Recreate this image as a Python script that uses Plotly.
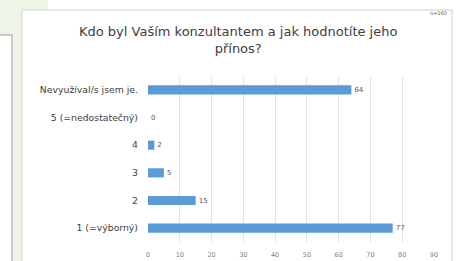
import plotly.graph_objects as go

categories = ["Nevyužíval/s jsem je.", "5 (=nedostatečný)", "4", "3", "2", "1 (=výborný)"]
values = [64, 0, 2, 5, 15, 77]
x_ticks = [0, 10, 20, 30, 40, 50, 60, 70, 80, 90]
title_lines = ["Kdo byl Vaším konzultantem a jak hodnotíte jeho", "přínos?"]
note = "n=160"

W, H = 457, 261
ML, MR, MT, MB = 148, 23, 76, 19
PW, PH = W - ML - MR, H - MT - MB

def px(x):
    return (x - ML) / PW

def py(y):
    return (H - MB - y) / PH

FONT = "DejaVu Sans"

fig = go.Figure(go.Bar(
    x=values, y=categories, orientation="h",
    marker=dict(color="#5b9bd5", line=dict(width=0)),
    width=0.33,
    text=[str(v) for v in values], textposition="outside",
    textfont=dict(size=7, color="#595959", family=FONT),
    cliponaxis=False,
))

shapes = [
    # light green page area
    dict(type="rect", xref="paper", yref="paper", x0=px(-2), x1=px(48), y0=py(36), y1=py(-2),
         fillcolor="#eef5e6", line=dict(width=0), layer="below"),
    dict(type="rect", xref="paper", yref="paper", x0=px(12), x1=px(22), y0=py(263), y1=py(30),
         fillcolor="#eef5e6", line=dict(width=0), layer="below"),
    # left panel
    dict(type="rect", xref="paper", yref="paper", x0=px(-3), x1=px(12), y0=py(265), y1=py(35),
         fillcolor="white", line=dict(color="#c8c8c8", width=2), layer="below"),
    # chart panel
    dict(type="rect", xref="paper", yref="paper", x0=px(22), x1=px(452), y0=py(265), y1=py(10),
         fillcolor="white", line=dict(color="#e0e0e0", width=1.5), layer="below"),
]

annotations = [
    dict(text="<br>".join(title_lines), xref="paper", yref="paper", x=px(238), y=py(40),
         showarrow=False, font=dict(size=13, color="#404040", family=FONT),
         xanchor="center", yanchor="middle", align="center"),
    dict(text=note, xref="paper", yref="paper", x=px(438), y=py(13),
         showarrow=False, font=dict(size=5, color="#595959", family=FONT),
         xanchor="center", yanchor="middle"),
]

fig.update_layout(
    width=W, height=H,
    margin=dict(l=ML, r=MR, t=MT, b=MB, pad=0, autoexpand=False),
    paper_bgcolor="white", plot_bgcolor="rgba(0,0,0,0)",
    showlegend=False,
    shapes=shapes, annotations=annotations,
    xaxis=dict(range=[0, 90], tickvals=x_ticks, showgrid=True, gridcolor="#e3e3e3",
               gridwidth=1, zeroline=False, showline=False, automargin=False,
               ticks="outside", ticklen=6, tickcolor="rgba(0,0,0,0)",
               tickfont=dict(size=6.5, color="#7f7f7f", family=FONT)),
    yaxis=dict(categoryorder="array", categoryarray=categories, autorange="reversed",
               showgrid=False, showline=False, ticks="", ticklabelstandoff=9, automargin=False,
               tickfont=dict(size=9.3, color="#404040", family=FONT)),
)

fig.write_html("out.html", config={"displayModeBar": False},
               post_script="document.body.style.margin='0';document.body.style.padding='0';")
